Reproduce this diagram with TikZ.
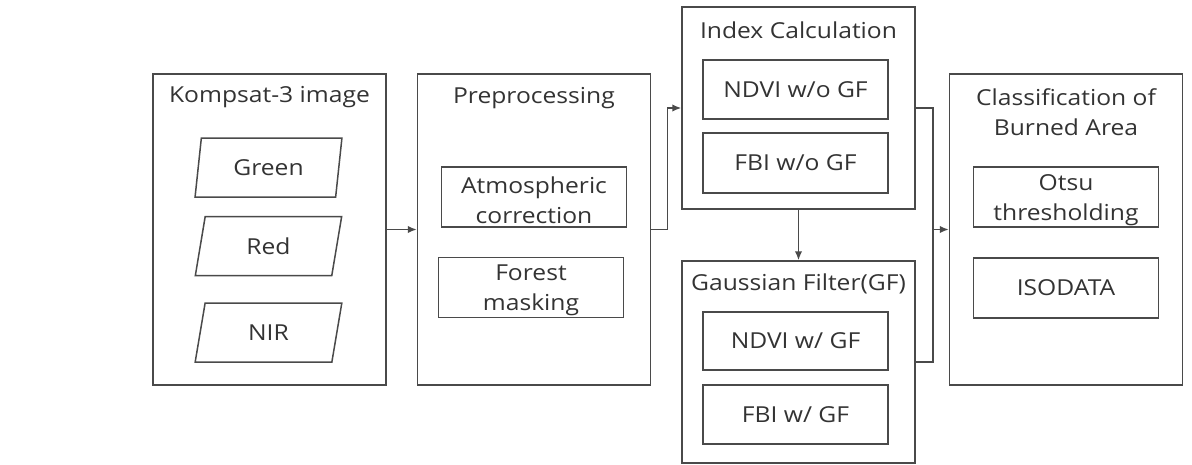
\documentclass[tikz,border=0pt]{standalone}
\usepackage{fontspec}
\setmainfont{Open Sans}[FakeStretch=1.12]
\usetikzlibrary{shapes.geometric,arrows.meta}
\definecolor{ln}{HTML}{4A4A4A}
\definecolor{tx}{HTML}{333333}
\begin{document}
\begin{tikzpicture}[x=1pt,y=-1pt,
  every node/.style={font=\fontsize{22}{30}\selectfont, text=tx},
  outer/.style={draw=ln, line width=1.5pt, minimum width=233pt, inner sep=0pt, align=center},
  inner/.style={draw=ln, line width=1.5pt, minimum width=185pt, minimum height=60pt, inner sep=0pt, align=center},
  band/.style={draw=ln, line width=1.5pt, trapezium, trapezium left angle=78.5, trapezium right angle=101.5, trapezium stretches=true, minimum width=147pt, minimum height=59pt, inner sep=0pt},
  ttl/.style={inner sep=0pt, align=center},
  arr/.style={draw=ln, line width=1.5pt, -{Latex[length=9pt,width=7.5pt]}},
  con/.style={draw=ln, line width=1.5pt}]
\useasboundingbox (0,0) rectangle (1192,464);
% outer boxes
\node[outer, minimum height=311pt] (k) at (269.5,229.5) {};
\node[outer, minimum height=311pt] (p) at (534,229.5) {};
\node[outer, minimum height=202pt] (idx) at (798.5,108) {};
\node[outer, minimum height=202pt] (gf) at (798.5,362) {};
\node[outer, minimum height=311pt] (cls) at (1066,229.5) {};
% titles
\node[ttl] (kt) at (269.5,97) {Kompsat-3 image};
\node[ttl] (pt) at (534,98) {Preprocessing};
\node[ttl] (it) at (798.5,30) {Index Calculation};
\node[ttl] (gt) at (798.5,284) {Gaussian Filter(GF)};
\node[ttl] (ct) at (1066,112) {Classification of\\Burned Area};
% bands
\node[band] (green) at (268.5,167.5) {Green};
\node[band] (red) at (268.5,246) {Red};
\node[band] (nir) at (268.5,332.5) {NIR};
% inner boxes
\node[inner] (atm) at (534,197) {};
\node[ttl] at (534,200) {Atmospheric\\correction};
\node[inner] (fm) at (531,287.5) {};
\node[ttl] at (531,290) {Forest\\masking};
\node[inner, minimum height=59pt] (n1) at (795.5,89.5) {NDVI w/o GF};
\node[inner] (f1) at (795.5,163) {FBI w/o GF};
\node[inner, minimum height=58pt] (n2) at (795.5,341) {NDVI w/ GF};
\node[inner, minimum height=59pt] (f2) at (795.5,414.5) {FBI w/ GF};
\node[inner] (ots) at (1066,197) {};
\node[ttl] at (1066,200) {Otsu\\thresholding};
\node[inner] (iso) at (1066,288) {ISODATA};
% connectors
\draw[arr] (k.east) -- (p.west);
\draw[arr] (p.east) -- ++(16,0) |- (idx.west);
\draw[arr] (idx.south) -- (gf.north);
\coordinate (j) at (933,229.5);
\draw[con] (idx.east) -- (j |- idx.east) -- (j |- gf.east) -- (gf.east);
\draw[arr] (j) -- (cls.west);
\end{tikzpicture}
\end{document}
